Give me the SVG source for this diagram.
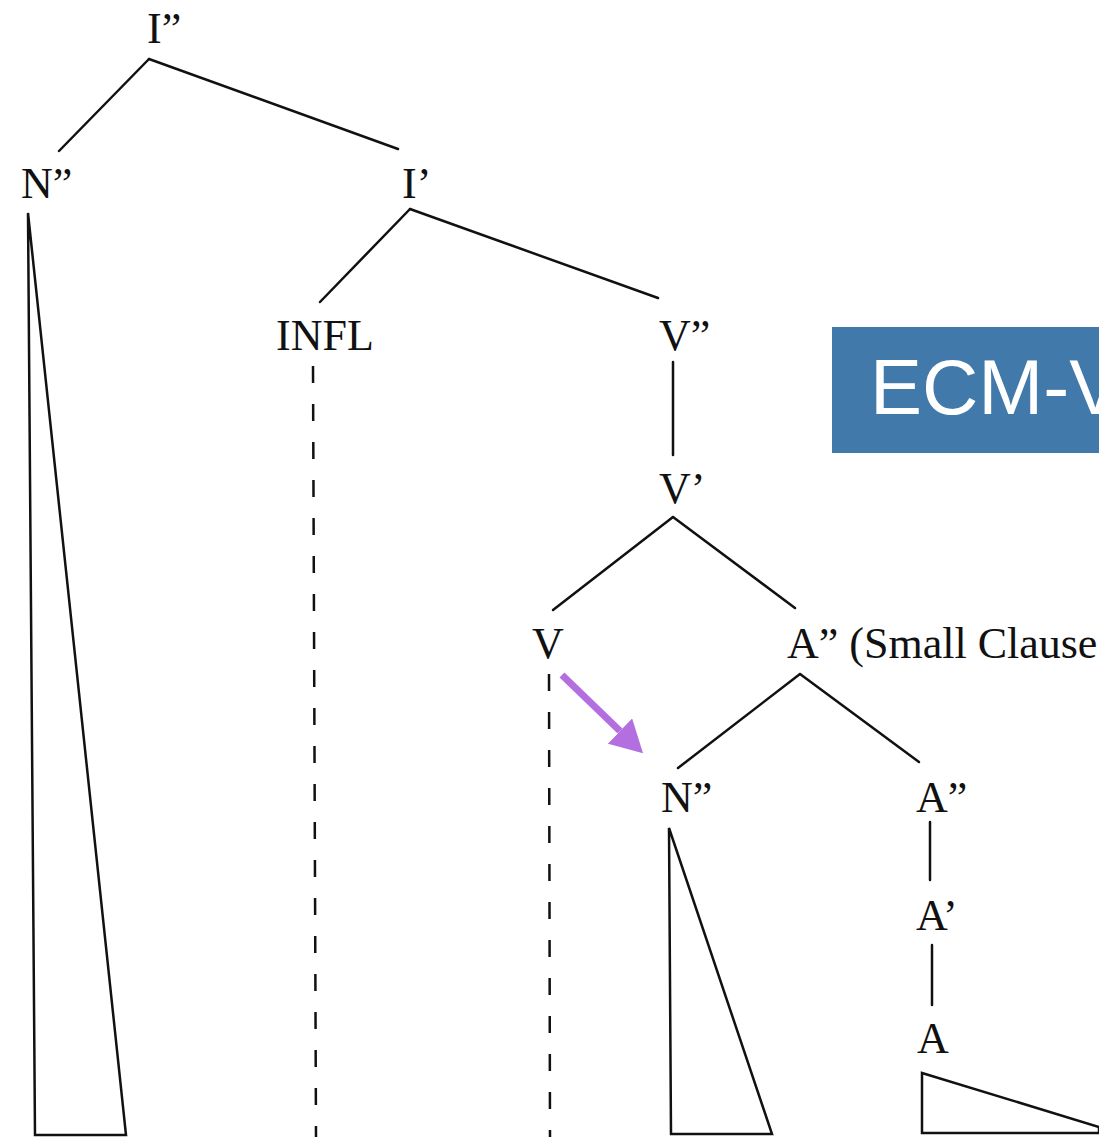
<svg xmlns="http://www.w3.org/2000/svg" width="1099" height="1137" viewBox="0 0 1099 1137">
  <style>
    .lbl { font-family: "Liberation Serif", "Times New Roman", serif; font-size: 44px; fill: #111; }
    .edge { stroke: #111; stroke-width: 2.5; fill: none; stroke-linecap: round; }
    .tri { stroke: #111; stroke-width: 2.5; fill: none; stroke-linejoin: miter; }
    .dash { stroke: #111; stroke-width: 2.5; fill: none; stroke-dasharray: 17 21; }
    .banner-text { font-family: "Liberation Sans", Arial, sans-serif; font-size: 78px; fill: #ffffff; }
  </style>
  <defs>
    <marker id="head" viewBox="0 0 32 35" refX="0" refY="17.5" markerWidth="32" markerHeight="35" markerUnits="userSpaceOnUse" orient="auto">
      <path d="M0,0 L32,17.5 L0,35 Z" fill="#b36fe0"/>
    </marker>
  </defs>
  <rect width="1099" height="1137" fill="#ffffff"/>

  <!-- tree branches -->
  <g id="connectors">
    <line class="edge" x1="149" y1="59" x2="59" y2="151"/>
    <line class="edge" x1="149" y1="59" x2="398" y2="149"/>
    <line class="edge" x1="410" y1="209" x2="320" y2="302"/>
    <line class="edge" x1="410" y1="209" x2="658" y2="298"/>
    <line class="edge" x1="673" y1="362" x2="673" y2="455"/>
    <line class="edge" x1="673" y1="517" x2="553" y2="610"/>
    <line class="edge" x1="673" y1="517" x2="795" y2="608"/>
    <line class="edge" x1="800" y1="674" x2="678" y2="768"/>
    <line class="edge" x1="800" y1="674" x2="919" y2="762"/>
    <line class="edge" x1="930" y1="822" x2="930" y2="880"/>
    <line class="edge" x1="932" y1="945" x2="932" y2="1005"/>
    <!-- dashed projections -->
    <line class="dash" x1="313" y1="366" x2="316" y2="1137"/>
    <line class="dash" x1="549" y1="674" x2="550" y2="1137"/>
    <!-- triangles -->
    <polygon class="tri" points="28,213 35,1135 126,1135"/>
    <polygon class="tri" points="669,828 671,1134 772,1134"/>
    <polygon class="tri" points="922,1073 1099,1127 1099,1133 922,1133"/>
    <!-- highlight arrow -->
    <line x1="562" y1="675" x2="620" y2="731" stroke="#b36fe0" stroke-width="7" marker-end="url(#head)"/>
  </g>

  <g id="n-i2"><text class="lbl" x="147" y="43">I”</text></g>
  <g id="n-n2"><text class="lbl" x="21" y="198">N”</text></g>
  <g id="n-i1"><text class="lbl" x="402" y="198">I’</text></g>
  <g id="n-infl"><text class="lbl" x="276" y="350">INFL</text></g>
  <g id="n-v2"><text class="lbl" x="659" y="350">V”</text></g>
  <g id="n-v1"><text class="lbl" x="659" y="503">V’</text></g>
  <g id="n-v0"><text class="lbl" x="532" y="658">V</text></g>
  <g id="n-a2sc"><text class="lbl" x="787" y="658">A” (Small Clause</text></g>
  <g id="n-n2b"><text class="lbl" x="661" y="812">N”</text></g>
  <g id="n-a2"><text class="lbl" x="916" y="812">A”</text></g>
  <g id="n-a1"><text class="lbl" x="916" y="930">A’</text></g>
  <g id="n-a0"><text class="lbl" x="917" y="1053">A</text></g>

  <g id="banner">
    <rect x="832" y="327" width="280" height="126" fill="#4179aa"/>
    <text class="banner-text" x="870" y="414">ECM-V</text>
  </g>
</svg>
